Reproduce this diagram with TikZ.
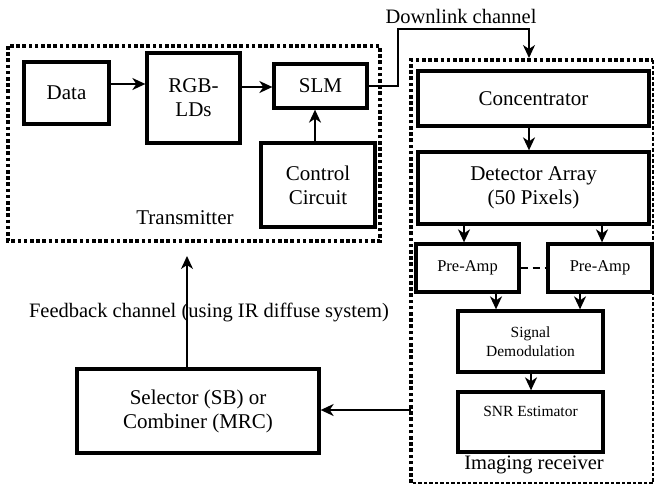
\documentclass[tikz,border=0pt]{standalone}
\usepackage{fontspec}
\setmainfont{Liberation Serif}
\usetikzlibrary{arrows.meta}
\begin{document}
\begin{tikzpicture}[x=1pt,y=-1pt,
  box/.style={draw,line width=3.3pt,align=center,inner sep=0pt,font=\fontsize{21}{24}\selectfont},
  sbox/.style={box,font=\fontsize{16.5}{19}\selectfont},
  arr/.style={line width=1.9pt,-{Stealth[length=13pt,width=12pt,inset=4pt]}},
  dotbox/.style={line width=3.6pt,dash pattern=on 3.6pt off 2.6pt},
  thin/.style={line width=1.5pt,dash pattern=on 3.5pt off 2pt}]
\useasboundingbox (0,0) rectangle (655,485);
% transmitter frame
\draw[dotbox] (8,46) rectangle (380,241);
\node[box,minimum width=85pt,minimum height=62pt] (data) at (66.5,93) {Data};
\node[box,minimum width=93pt,minimum height=90pt] (rgb) at (193.5,98) {RGB-\\LDs};
\node[box,minimum width=93pt,minimum height=44pt] (slm) at (320.5,86) {SLM};
\node[box,minimum width=114pt,minimum height=84pt] (ctrl) at (318,185) {Control\\Circuit};
\node[font=\fontsize{21}{24}\selectfont] (tx) at (185,218) {Transmitter};
\draw[arr] (data.east |- 0,84) -- (rgb.west |- 0,84);
\draw[arr] (rgb.east |- 0,87) -- (slm.west |- 0,87);
\draw[arr] (ctrl.north -| 315,0) -- (slm.south -| 315,0);
% receiver frame
\draw[dotbox] (411,483) -- (411,60) -- (653,60);
\draw[thin] (653,60) -- (653,483) -- (411,483);
\node[box,minimum width=231pt,minimum height=55pt] (conc) at (533.5,98.5) {Concentrator};
\node[box,minimum width=231pt,minimum height=72pt] (det) at (533.5,188) {Detector Array\\(50 Pixels)};
\node[sbox,minimum width=103pt,minimum height=48pt] (pa1) at (467.5,268) {Pre-Amp};
\node[sbox,minimum width=104pt,minimum height=48pt] (pa2) at (600,268) {Pre-Amp};
\node[box,font=\fontsize{15.5}{19}\selectfont,minimum width=145pt,minimum height=61pt] (dem) at (530.5,341.5) {Signal\\Demodulation};
\node[box,minimum width=145pt,minimum height=60pt] (snr) at (530.5,422) {};
\node[font=\fontsize{15.5}{18}\selectfont] (snrt) at (530.5,411) {SNR Estimator};
\node[font=\fontsize{20.5}{23}\selectfont] (rx) at (534,465) {Imaging receiver};
\draw[arr] (conc.south -| 529,0) -- (det.north -| 529,0);
\draw[arr] (det.south -| 464,0) -- (pa1.north -| 464,0);
\draw[arr] (det.south -| 602,0) -- (pa2.north -| 602,0);
\draw[line width=1.9pt,dash pattern=on 7pt off 5pt] (pa1.east) -- (pa2.west);
\draw[arr] (pa1.south -| 496,0) -- (dem.north -| 496,0);
\draw[arr] (pa2.south -| 580,0) -- (dem.north -| 580,0);
\draw[arr] (dem.south -| 531,0) -- (snr.north -| 531,0);
% downlink
\coordinate (rxtop) at (529,58);
\draw[arr] (slm.east) -- (398,86) -- (398,29) -- (529,29) -- (rxtop);
\node[font=\fontsize{20.5}{23}\selectfont] (dl) at (461,16) {Downlink channel};
% selector
\node[box,minimum width=242pt,minimum height=84pt] (sel) at (198,411) {Selector (SB) or\\Combiner (MRC)};
\coordinate (rxleft) at (411,410);
\coordinate (txbot) at (187,256);
\draw[arr] (rxleft) -- (sel.east |- rxleft);
\draw[arr] (sel.north -| txbot) -- (txbot);
\node[inner sep=0pt,font=\fontsize{20.5}{23}\selectfont] (fb) at (209,312) {Feedback channel (using IR diffuse system)};
\end{tikzpicture}
\end{document}
